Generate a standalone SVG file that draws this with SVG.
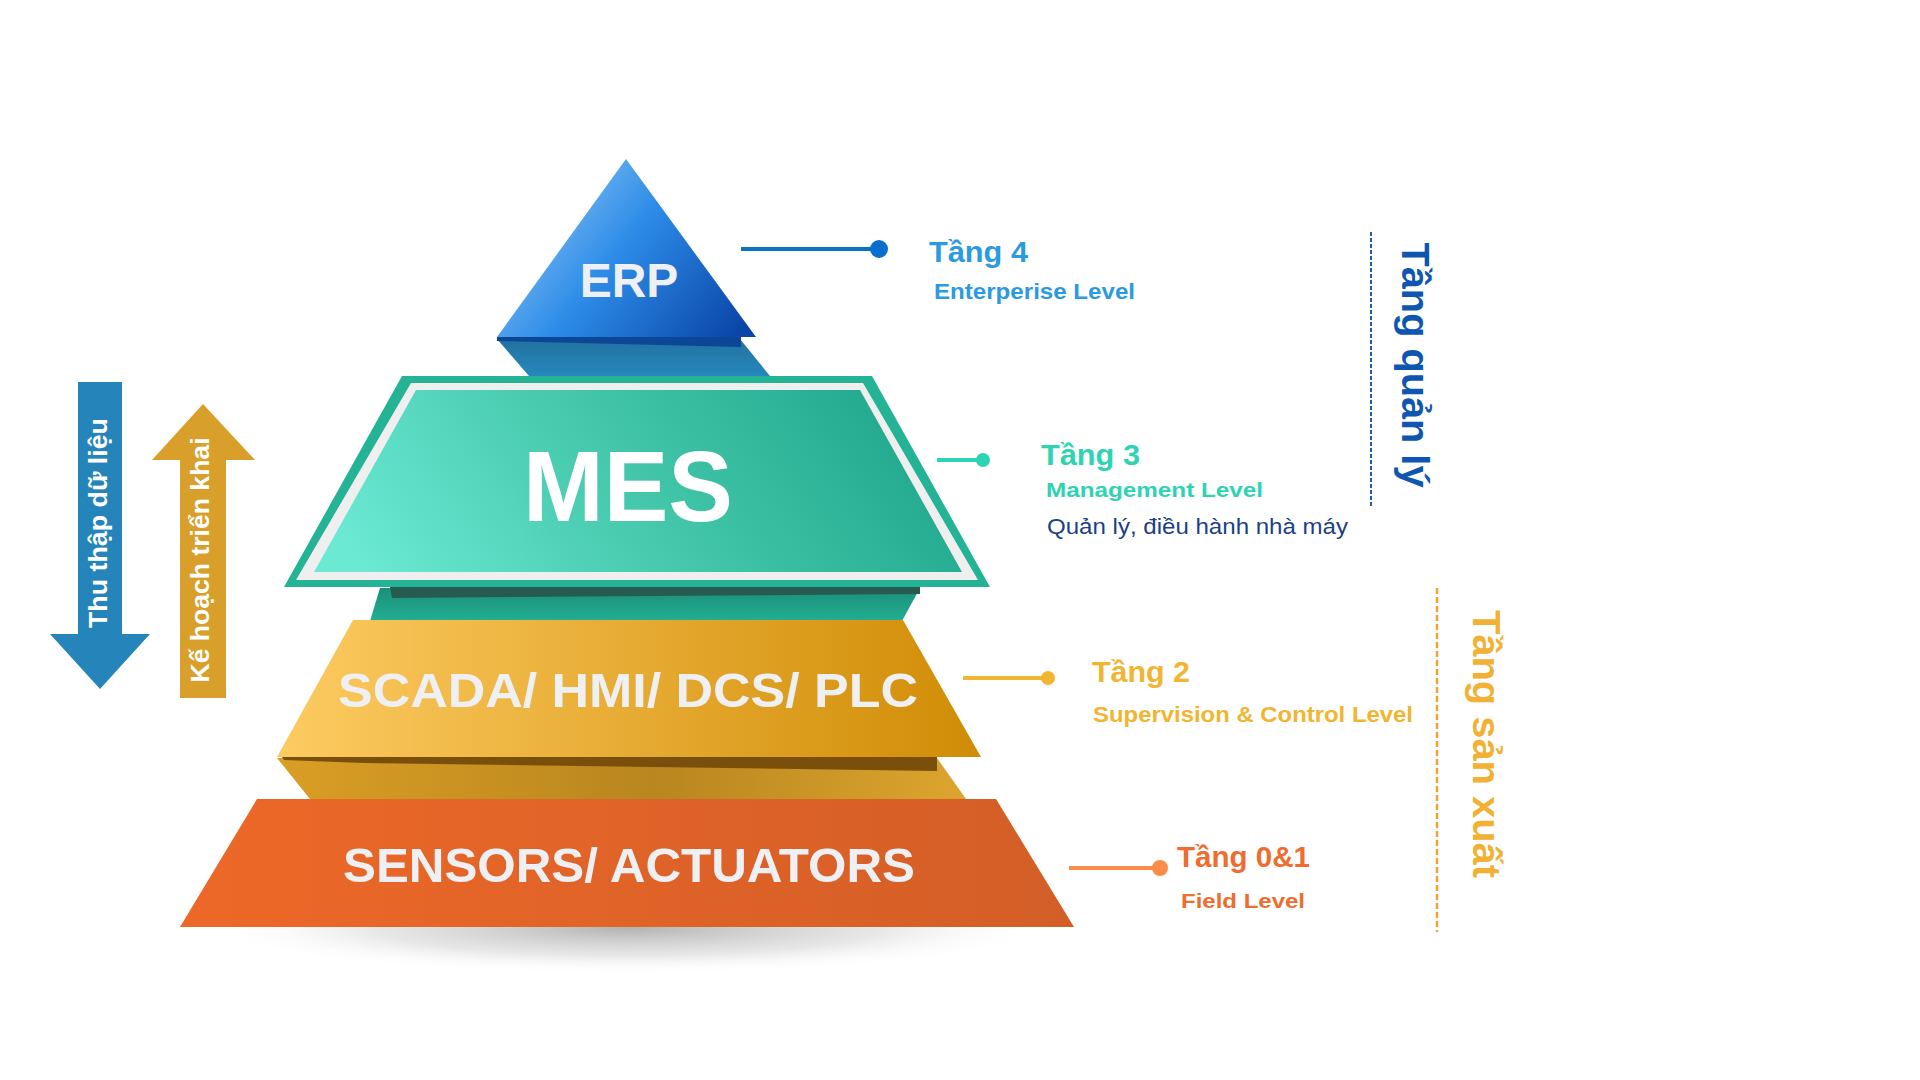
<svg xmlns="http://www.w3.org/2000/svg" width="1920" height="1080" viewBox="0 0 1920 1080">
<defs>
<linearGradient id="erpGrad" x1="0" y1="0.3" x2="1" y2="0.85">
<stop offset="0" stop-color="#8EC6F3"/>
<stop offset="0.45" stop-color="#2D8CE8"/>
<stop offset="1" stop-color="#0A46A8"/>
</linearGradient>
<linearGradient id="mesGrad" x1="0" y1="0.6" x2="1" y2="0.4">
<stop offset="0" stop-color="#6BE9D3"/>
<stop offset="0.5" stop-color="#43C6AA"/>
<stop offset="1" stop-color="#1FA78B"/>
</linearGradient>
<linearGradient id="scadaGrad" x1="0" y1="0.5" x2="1" y2="0.5">
<stop offset="0" stop-color="#FDCB62"/>
<stop offset="1" stop-color="#D08C05"/>
</linearGradient>
<linearGradient id="sensGrad" x1="0" y1="0.5" x2="1" y2="0.5">
<stop offset="0" stop-color="#ED6828"/>
<stop offset="1" stop-color="#D35E27"/>
</linearGradient>
<linearGradient id="goldBand" x1="0" y1="0" x2="1" y2="0">
<stop offset="0" stop-color="#D99E24"/>
<stop offset="0.55" stop-color="#B9861F"/>
<stop offset="1" stop-color="#DCA52E"/>
</linearGradient>
<linearGradient id="tealBand" x1="0" y1="0" x2="0" y2="1">
<stop offset="0" stop-color="#1B8F78"/>
<stop offset="1" stop-color="#22AE92"/>
</linearGradient>
<linearGradient id="blueBand" x1="0" y1="0" x2="0" y2="1">
<stop offset="0" stop-color="#21729F"/>
<stop offset="1" stop-color="#2688BD"/>
</linearGradient>
<radialGradient id="shadow" cx="0.5" cy="0.5" r="0.5">
<stop offset="0" stop-color="#9A9A9A" stop-opacity="0.75"/>
<stop offset="0.6" stop-color="#BBBBBB" stop-opacity="0.35"/>
<stop offset="1" stop-color="#FFFFFF" stop-opacity="0"/>
</radialGradient>
<style>
.lbl{font-family:"Liberation Sans",Arial,sans-serif;font-weight:700;fill:#EEF0F3;text-anchor:middle}
.arr{font-family:"Liberation Sans",Arial,sans-serif;font-weight:700;font-size:26px;fill:#FFFFFF;text-anchor:middle}
.t{font-family:"Liberation Sans",Arial,sans-serif;font-weight:700}
.side{font-family:"Liberation Sans",Arial,sans-serif;font-weight:700;font-size:39px;text-anchor:middle}
</style>
</defs>
<rect width="1920" height="1080" fill="#FFFFFF"/>

<!-- shadow under base -->
<ellipse cx="628" cy="928" rx="420" ry="46" fill="url(#shadow)"/>

<g id="erp">
<polygon points="497,339 740,339 770,376 529,376" fill="url(#blueBand)"/>
<polygon points="626,159 756,337 497,337" fill="url(#erpGrad)"/>
<polygon points="497,337 741,337 741,347 497,341" fill="#0B4796"/>
<text class="lbl" x="629" y="297" font-size="48">ERP</text>
</g>

<g id="mes">
<polygon points="380,588 920,588 902,621 370,621" fill="url(#tealBand)"/>
<polygon points="390,587 920,587 920,594 392,598" fill="#275B50"/>
<polygon points="402,376 872,376 990,587 284,587" fill="#25B396"/>
<polygon points="411,383 863,383 978,580 296,580" fill="#EFEFEF"/>
<polygon points="416,390 860,390 962,572 314,572" fill="url(#mesGrad)"/>
<text class="lbl" x="628" y="521" font-size="100" fill="#FFFFFF" style="fill:#FFFFFF" textLength="210" lengthAdjust="spacingAndGlyphs">MES</text>
</g>

<g id="scada">
<polygon points="277,758 937,758 966,799 310,799" fill="url(#goldBand)"/>
<polygon points="282,757 937,757 937,771 364,763 284,760" fill="#7A4F0B"/>
<polygon points="353,620 903,620 981,757 277,757" fill="url(#scadaGrad)"/>
<text class="lbl" x="628" y="707" font-size="48" textLength="580" lengthAdjust="spacingAndGlyphs">SCADA/ HMI/ DCS/ PLC</text>
</g>

<g id="sensors">
<polygon points="257,799 996,799 1074,927 180,927" fill="url(#sensGrad)"/>
<text class="lbl" x="629" y="882" font-size="48" textLength="572" lengthAdjust="spacingAndGlyphs">SENSORS/ ACTUATORS</text>
</g>

<g id="arrow-down">
<polygon points="78,382 122,382 122,634 150,634 100,689 50,634 78,634" fill="#2585BA"/>
<text class="arr" transform="translate(107,523) rotate(-90)" textLength="210" lengthAdjust="spacingAndGlyphs">Thu thập dữ liệu</text>
</g>

<g id="arrow-up">
<polygon points="203,404 255,460 226,460 226,698 180,698 180,460 152,460" fill="#D8A02A"/>
<text class="arr" transform="translate(209,560) rotate(-90)" textLength="245" lengthAdjust="spacingAndGlyphs">Kế hoạch triển khai</text>
</g>

<g id="connectors">
<line x1="741" y1="249" x2="879" y2="249" stroke="#0B72C7" stroke-width="4"/>
<circle cx="879" cy="249" r="9" fill="#0A6FCC"/>
<line x1="937" y1="460" x2="983" y2="460" stroke="#2DD4B4" stroke-width="4"/>
<circle cx="983" cy="460" r="7" fill="#2DD4B4"/>
<line x1="963" y1="678" x2="1048" y2="678" stroke="#F2B531" stroke-width="4"/>
<circle cx="1048" cy="678" r="7" fill="#F2B531"/>
<line x1="1069" y1="868" x2="1160" y2="868" stroke="#FA8C48" stroke-width="4"/>
<circle cx="1160" cy="868" r="8" fill="#FA8C48"/>
<line x1="1371" y1="232" x2="1371" y2="507" stroke="#1E5BB5" stroke-width="2" stroke-dasharray="4 2"/>
<line x1="1437" y1="588" x2="1437" y2="932" stroke="#F4A52A" stroke-width="2.5" stroke-dasharray="6 3"/>
</g>

<g id="label-tang4">
<text class="t" x="929" y="262" font-size="30" fill="#2B9AE0" textLength="99" lengthAdjust="spacingAndGlyphs">Tầng 4</text>
<text class="t" x="934" y="299" font-size="22" fill="#2B9AE0" textLength="201" lengthAdjust="spacingAndGlyphs">Enterperise Level</text>
</g>

<g id="label-tang3">
<text class="t" x="1041" y="465" font-size="30" fill="#2ED4B2" textLength="99" lengthAdjust="spacingAndGlyphs">Tầng 3</text>
<text class="t" x="1046" y="497" font-size="20" fill="#2ED4B2" textLength="217" lengthAdjust="spacingAndGlyphs">Management Level</text>
<text x="1047" y="534" font-family="Liberation Sans, Arial, sans-serif" font-size="22" fill="#1C3F86" textLength="301" lengthAdjust="spacingAndGlyphs">Quản lý, điều hành nhà máy</text>
</g>

<g id="label-tang2">
<text class="t" x="1092" y="682" font-size="30" fill="#F2B531" textLength="98" lengthAdjust="spacingAndGlyphs">Tầng 2</text>
<text class="t" x="1093" y="722" font-size="22" fill="#F2B531" textLength="320" lengthAdjust="spacingAndGlyphs">Supervision &amp; Control Level</text>
</g>

<g id="label-tang01">
<text class="t" x="1177" y="867" font-size="29" fill="#EE6D2F" textLength="133" lengthAdjust="spacingAndGlyphs">Tầng 0&amp;1</text>
<text class="t" x="1181" y="908" font-size="21" fill="#EE6D2F" textLength="124" lengthAdjust="spacingAndGlyphs">Field Level</text>
</g>

<g id="group-quanly">
<text class="side" transform="translate(1402,365) rotate(90)" fill="#0E56B0" textLength="245" lengthAdjust="spacingAndGlyphs">Tầng quản lý</text>
</g>

<g id="group-sanxuat">
<text class="side" transform="translate(1473,744) rotate(90)" fill="#F2B134" textLength="268" lengthAdjust="spacingAndGlyphs">Tầng sản xuất</text>
</g>
</svg>
